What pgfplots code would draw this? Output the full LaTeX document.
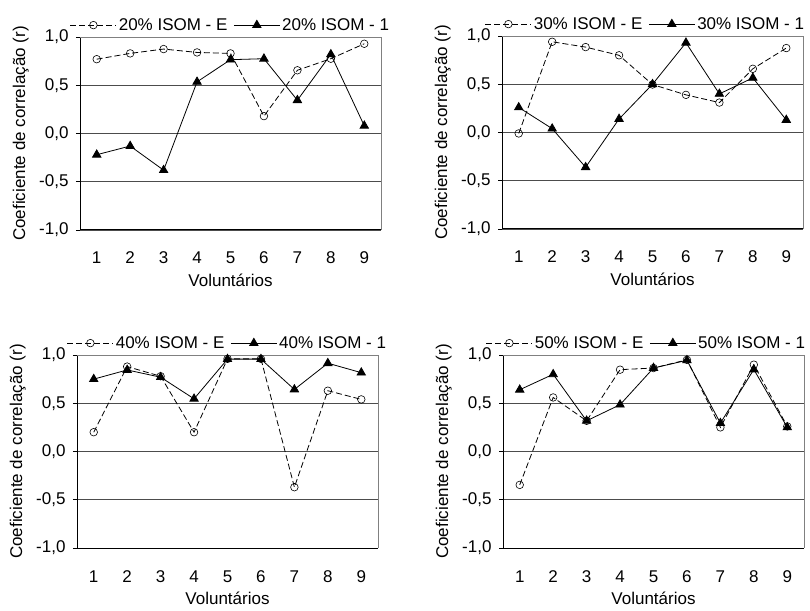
\documentclass[border=0pt]{standalone}
\usepackage{fontspec}
\setmainfont{Liberation Sans}
\usepackage{pgfplots}
\pgfplotsset{compat=1.18}
\pgfplotsset{
 panel/.style={
  width=301pt, height=193pt, scale only axis,
  xmin=0.5, xmax=9.5, ymin=-1, ymax=1,
  axis lines=left, axis line style={-, line width=1pt, black},
  xtick={1,...,9}, xticklabels={1,2,3,4,5,6,7,8,9},
  ytick={-1,-0.5,0,0.5,1}, yticklabels={{-1,0},{-0,5},{0,0},{0,5},{1,0}},
  x tick style={draw=none},
  y tick style={black, line width=0.8pt},
  tick align=outside, major tick length=4pt,
  ymajorgrids, grid style={black!70, line width=0.8pt},
  tick label style={font=\fontsize{17}{20}\selectfont},
  xticklabel style={anchor=base, yshift=-30pt},
  yticklabel style={xshift=-4pt},
  label style={font=\fontsize{17}{20}\selectfont},
  xlabel={Voluntários}, ylabel={Coeficiente de correlação (r)},
  xlabel style={at={(axis description cs:0.5,-0.262)}, anchor=center},
  ylabel style={at={(axis description cs:-0.197,0.5)}, anchor=center},
  legend columns=2,
  legend style={at={(0.5,1)}, anchor=south, yshift=3pt, draw=none, fill=none,
     font=\fontsize{17}{20}\selectfont, inner sep=0pt,
     nodes={inner sep=2pt},
     /tikz/every even column/.append style={column sep=4pt}},
  legend image code/.code={\draw[mark repeat=2,mark phase=2,##1] plot coordinates {(0pt,0pt) (23pt,0pt) (46pt,0pt)};},
  clip=false,
 },
 rightpanel/.style={legend style={xshift=-7pt}},
 E/.style={black, line width=0.8pt, dash pattern=on 6pt off 3pt, mark=o, mark size=3.8pt, mark options={solid, fill=white, line width=0.6pt}},
 S/.style={black, line width=0.8pt, mark=triangle*, mark size=4.8pt, mark options={solid}},
}
\newcommand{\frameTR}{\draw[black!50, line width=0.8pt] (rel axis cs:0,1) -- (rel axis cs:1,1) -- (rel axis cs:1,0);}
\begin{document}
\begin{tikzpicture}
\useasboundingbox (0,0) rectangle (810pt,610pt);
% top-left
\begin{axis}[panel, at={(80pt,380pt)}, anchor=south west]
\frameTR
\addplot[E] coordinates {(1,0.77) (2,0.83) (3,0.875) (4,0.84) (5,0.83) (6,0.18) (7,0.655) (8,0.775) (9,0.93)};
\addplot[S] coordinates {(1,-0.22) (2,-0.13) (3,-0.38) (4,0.535) (5,0.765) (6,0.775) (7,0.345) (8,0.82) (9,0.08)};
\legend{20\% ISOM - E, 20\% ISOM - 1}
\end{axis}
% top-right
\begin{axis}[panel, rightpanel, at={(502pt,381pt)}, anchor=south west]
\frameTR
\addplot[E] coordinates {(1,-0.01) (2,0.94) (3,0.885) (4,0.80) (5,0.497) (6,0.39) (7,0.31) (8,0.66) (9,0.875)};
\addplot[S] coordinates {(1,0.26) (2,0.04) (3,-0.36) (4,0.14) (5,0.50) (6,0.93) (7,0.40) (8,0.566) (9,0.13)};
\legend{30\% ISOM - E, 30\% ISOM - 1}
\end{axis}
% bottom-left
\begin{axis}[panel, at={(77pt,62pt)}, anchor=south west]
\frameTR
\addplot[E] coordinates {(1,0.20) (2,0.88) (3,0.78) (4,0.20) (5,0.96) (6,0.96) (7,-0.37) (8,0.63) (9,0.54)};
\addplot[S] coordinates {(1,0.75) (2,0.845) (3,0.77) (4,0.546) (5,0.957) (6,0.957) (7,0.643) (8,0.915) (9,0.817)};
\legend{40\% ISOM - E, 40\% ISOM - 1}
\end{axis}
% bottom-right
\begin{axis}[panel, rightpanel, at={(503pt,62pt)}, anchor=south west]
\frameTR
\addplot[E] coordinates {(1,-0.346) (2,0.56) (3,0.318) (4,0.848) (5,0.865) (6,0.95) (7,0.25) (8,0.90) (9,0.26)};
\addplot[S] coordinates {(1,0.64) (2,0.80) (3,0.318) (4,0.485) (5,0.865) (6,0.945) (7,0.294) (8,0.85) (9,0.25)};
\legend{50\% ISOM - E, 50\% ISOM - 1}
\end{axis}
\end{tikzpicture}
\end{document}
